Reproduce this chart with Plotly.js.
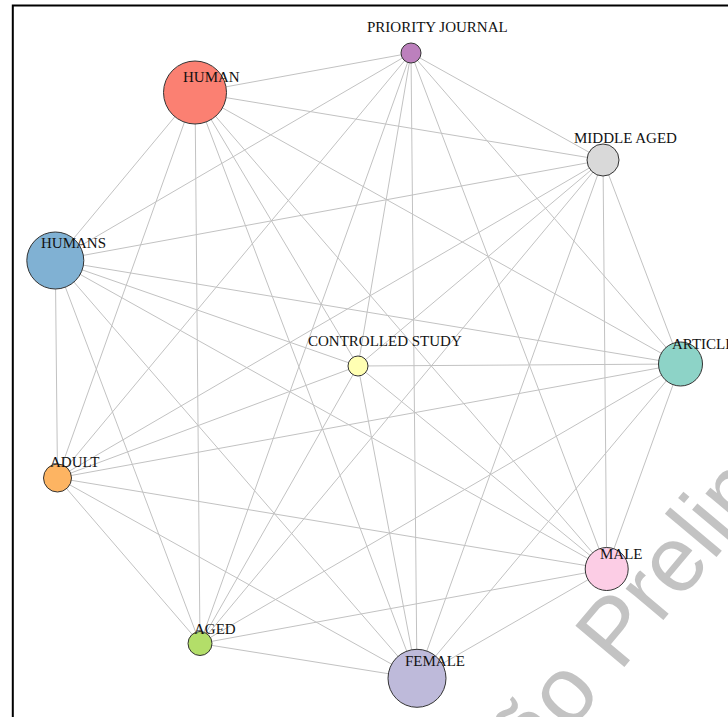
<!DOCTYPE html>
<html>
<head>
<meta charset="utf-8">
<script src="https://cdn.plot.ly/plotly-3.0.1.min.js"></script>
<style>html,body{margin:0;padding:0;background:#fff;}#chart{width:728px;height:717px;}</style>
</head>
<body>
<div id="chart"></div>
<script>
// ---- data ----
var nodeNames = ["HUMAN", "PRIORITY JOURNAL", "MIDDLE AGED", "HUMANS", "CONTROLLED STUDY",
                 "ARTICLE", "ADULT", "AGED", "FEMALE", "MALE"];
// layout coordinates of the network nodes
var nodeX = [195, 411, 603, 55.3, 358, 680.5, 57.5, 200, 417, 606.7];
var nodeY = [92.5, 53, 160, 260.5, 366, 364, 478, 643.5, 678.3, 569];
// node weight (drawn as circle diameter)
var nodeWeight = [63, 20, 32, 57, 20, 44, 28, 24, 58, 43];
var edgeFrom = [0,0,0,0,0,0,0,0,0, 1,1,1,1,1,1,1,1, 2,2,2,2,2,2,2, 3,3,3,3,3,3, 4,4,4,4,4, 5,5,5,5, 6,6,6, 7,7, 8];
var edgeTo   = [1,2,3,4,5,6,7,8,9, 2,3,4,5,6,7,8,9, 3,4,5,6,7,8,9, 4,5,6,7,8,9, 5,6,7,8,9, 6,7,8,9, 7,8,9, 8,9, 9];

// ---- styles ----
var nodeColors = ["#FB8072", "#BC80BD", "#D9D9D9", "#80B1D3", "#FFFFB3",
                  "#8DD3C7", "#FDB462", "#B3DE69", "#BEBADA", "#FCCDE5"];
var labelDx = [16, 26, 22.5, 18, 26.5, 22, 17, 15, 18, 14.6];
var labelDy = [-16, -26, -22, -18, -25.5, -20, -16, -15, -17.5, -15];

var ex = [], ey = [];
for (var k = 0; k < edgeFrom.length; k++) {
  ex.push(nodeX[edgeFrom[k]], nodeX[edgeTo[k]], null);
  ey.push(nodeY[edgeFrom[k]], nodeY[edgeTo[k]], null);
}

var edges = {
  type: "scatter", mode: "lines", x: ex, y: ey, hoverinfo: "skip",
  line: {color: "#c2c2c2", width: 1}, showlegend: false
};
var nodes = {
  type: "scatter", mode: "markers", x: nodeX, y: nodeY, text: nodeNames, hoverinfo: "text",
  marker: {size: nodeWeight, color: nodeColors, opacity: 1, line: {color: "#333333", width: 1}},
  showlegend: false
};

var annotations = nodeNames.map(function (n, i) {
  return {
    x: nodeX[i], y: nodeY[i], xref: "x", yref: "y", text: n, showarrow: false,
    xshift: labelDx[i], yshift: -labelDy[i],
    font: {family: "Liberation Serif, Times New Roman, serif", size: 15, color: "#111"}
  };
});
annotations.push({
  x: 627.5, y: 612.7, xref: "x", yref: "y", text: "Versão Preliminar", showarrow: false,
  textangle: -50,
  font: {family: "Liberation Sans, Arial, sans-serif", size: 93, color: "#c3c3c3"}
});

var layout = {
  width: 728, height: 717,
  margin: {l: 0, r: 0, t: 0, b: 0},
  paper_bgcolor: "#ffffff", plot_bgcolor: "#ffffff",
  xaxis: {range: [0, 728], visible: false, fixedrange: true},
  yaxis: {range: [717, 0], visible: false, fixedrange: true},
  annotations: annotations,
  shapes: [{type: "rect", xref: "x", yref: "y", x0: 12.8, y0: 5.5, x1: 760, y1: 760,
            line: {color: "#000", width: 2}, fillcolor: "rgba(0,0,0,0)", layer: "above"}],
  showlegend: false
};

Plotly.newPlot("chart", [edges, nodes], layout, {displayModeBar: false, staticPlot: true});
</script>
</body>
</html>
